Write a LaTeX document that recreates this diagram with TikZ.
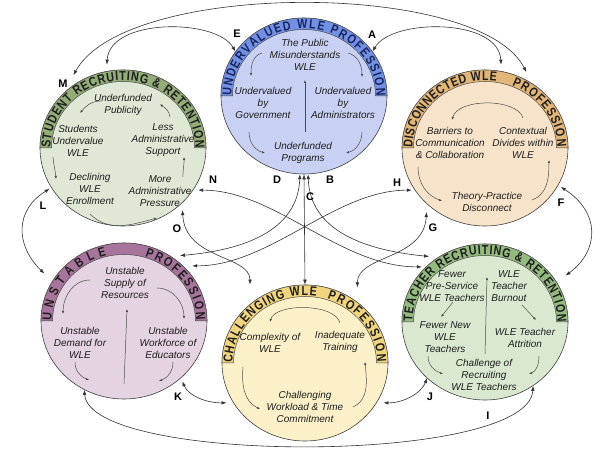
\documentclass[tikz,border=0pt]{standalone}
\usepackage{fontspec}
\setmainfont{Liberation Sans}
\newfontfamily\bandfam[FakeStretch=0.82]{Liberation Sans}
\usetikzlibrary{shapes.geometric,decorations.text,arrows.meta}
\definecolor{uFill}{HTML}{C8D1F3}
\definecolor{uBand}{HTML}{7391E4}
\definecolor{uText}{HTML}{17245F}
\definecolor{sFill}{HTML}{DEE8D4}
\definecolor{sBand}{HTML}{93AC78}
\definecolor{dFill}{HTML}{F6E3C9}
\definecolor{dBand}{HTML}{E2B676}
\definecolor{pFill}{HTML}{E4D3E0}
\definecolor{pBand}{HTML}{A7749B}
\definecolor{cFill}{HTML}{FCF0C8}
\definecolor{cBand}{HTML}{F0D47E}
\definecolor{tFill}{HTML}{DAE8D0}
\definecolor{tBand}{HTML}{93BB80}
\definecolor{inkD}{HTML}{1E1E1E}
\newcommand\ringband[1]{\fill[#1,draw=black!70,line width=0.5pt] (-83,0) arc[start angle=180,end angle=0,x radius=83,y radius=78] -- (71.5,0) arc[start angle=0,end angle=180,x radius=71.5,y radius=66.5] -- cycle;}
\newcommand\ringtext[4]{\path[decorate,decoration={text along path,text color=#4,text align=fit to path,text={|\bandfam\bfseries\fontsize{13}{13}\selectfont|#3}}] (#1:72.5 and 67.5) arc[start angle=#1,end angle=#2,x radius=72.5,y radius=67.5];}
\begin{document}
\begin{tikzpicture}[x=1pt,y=1pt,
  circ/.style={ellipse,minimum width=166pt,minimum height=156pt,inner sep=0pt,draw=black!75,line width=0.6pt},
  itx/.style={font=\itshape\fontsize{10}{12}\selectfont,align=center,text=inkD,inner sep=0pt},
  lbl/.style={font=\bfseries\fontsize{11}{11}\selectfont,text=black,inner sep=0pt},
  conn/.style={draw=black!80,line width=0.6pt,{Latex[length=5pt,width=3.6pt]}-{Latex[length=5pt,width=3.6pt]}},
  inarr/.style={draw=black!70,line width=0.5pt,-{Latex[length=3pt,width=2.4pt]}}]
\useasboundingbox (0,0) rectangle (600,450);
\fill[white] (0,0) rectangle (600,450);

% ---------- circles ----------
\node[circ,fill=uFill] (U) at (304,354) {};
\node[circ,fill=sFill] (S) at (123,302) {};
\node[circ,fill=dFill] (Dc) at (485,302) {};
\node[circ,fill=pFill] (P) at (124,129) {};
\node[circ,fill=cFill] (Ch) at (305,87) {};
\node[circ,fill=tFill] (T) at (485,128) {};

\begin{scope}[shift={(304,354)}]
 \ringband{uBand}
 \ringtext{180}{0}{UNDERVALUED WLE PROFESSION}{uText}
\end{scope}
\begin{scope}[shift={(123,302)}]
 \ringband{sBand}
 \ringtext{180}{0}{STUDENT RECRUITING {\&} RETENTION}{inkD}
\end{scope}
\begin{scope}[shift={(485,302)}]
 \ringband{dBand}
 \ringtext{180}{81}{DISCONNECTED WLE}{inkD}
 \ringtext{68}{1}{PROFESSION}{inkD}
\end{scope}
\begin{scope}[shift={(124,129)}]
 \ringband{pBand}
 \ringtext{180}{104}{UNSTABLE}{inkD}
 \ringtext{73}{1}{PROFESSION}{inkD}
\end{scope}
\begin{scope}[shift={(305,87)}]
 \ringband{cBand}
 \ringtext{180}{81}{CHALLENGING WLE}{inkD}
 \ringtext{72}{1}{PROFESSION}{inkD}
\end{scope}
\begin{scope}[shift={(485,128)}]
 \ringband{tBand}
 \ringtext{180}{0}{TEACHER RECRUITING {\&} RETENTION}{inkD}
\end{scope}

% ---------- Undervalued ----------
\node[itx] (u1) at (305,395) {The Public\\Misunderstands\\WLE};
\node[itx] (u2) at (263,347) {Undervalued\\by\\Government};
\node[itx] (u3) at (343,347) {Undervalued\\by\\Administrators};
\node[itx] (u4) at (303,297) {Underfunded\\Programs};
\draw[inarr] (262,397) to[out=195,in=90] (251,374);
\draw[inarr] (348,397) to[out=-15,in=90] (362,373);
\draw[inarr] (305,318) -- (305,370);
\draw[inarr] (249,318) to[out=-90,in=165] (265,297);
\draw[inarr] (362,318) to[out=-90,in=15] (346,297);

% ---------- Student ----------
\node[itx] (s1) at (123,345) {Underfunded\\Publicity};
\node[itx] (s2) at (78,309) {Students\\Undervalue\\WLE};
\node[itx] (s3) at (163,310) {Less\\Administrative\\Support};
\node[itx] (s4) at (90,261) {Declining\\WLE\\Enrollment};
\node[itx] (s5) at (160,259) {More\\Administrative\\Pressure};
\draw[inarr] (101,349) to[out=180,in=50] (80,337);
\draw[inarr] (170,333) to[out=95,in=-40] (160,346);
\draw[inarr] (53,293) to[out=-85,in=95] (56,271);
\draw[inarr] (183,273) to[out=92,in=-88] (184,293);
\draw[inarr] (90,236) to[out=-45,in=195] (157,232);

% ---------- Disconnected ----------
\draw[inarr] (523,332) .. controls (517,352) and (458,352) .. (452,330);
\node[itx] (d1) at (450,307) {Barriers to\\Communication\\\& Collaboration};
\node[itx] (d2) at (523,307) {Contextual\\Divides within\\WLE};
\node[itx] (d3) at (487,248) {Theory-Practice\\Disconnect};
\draw[inarr] (418,283) to[out=-90,in=160] (442,249);
\draw[inarr] (532,250) to[out=20,in=-90] (549,290);

% ---------- Unstable ----------
\node[itx] (p1) at (125,167) {Unstable\\Supply of\\Resources};
\node[itx] (p2) at (80,107) {Unstable\\Demand for\\WLE};
\node[itx] (p3) at (168,107) {Unstable\\Workforce of\\Educators};
\draw[inarr] (90,170) to[out=180,in=90] (63,136);
\draw[inarr] (157,162) to[out=0,in=90] (184,131);
\draw[inarr] (124,66) -- (127,141);
\draw[inarr] (75,88) to[out=-90,in=160] (89,70);
\draw[inarr] (173,88) to[out=-90,in=20] (159,69);

% ---------- Challenging ----------
\draw[inarr] (340,127) .. controls (335,147) and (275,147) .. (270,128);
\node[itx] (c1) at (270,107) {Complexity of\\WLE};
\node[itx] (c2) at (340,108) {Inadequate\\Training};
\node[itx] (c3) at (305,43) {Challenging\\Workload \& Time\\Commitment};
\draw[inarr] (243,83) to[out=-95,in=155] (260,41);
\draw[inarr] (353,43) to[out=25,in=-85] (365,88);

% ---------- Teacher ----------
\node[itx] (t1) at (452,164) {Fewer\\Pre-Service\\WLE Teachers};
\node[itx] (t2) at (509,164) {WLE\\Teacher\\Burnout};
\node[itx] (t3) at (445,113) {Fewer New\\WLE\\Teachers};
\node[itx] (t4) at (525,112) {WLE Teacher\\Attrition};
\node[itx] (t5) at (484,75) {Challenge of\\Recruiting\\WLE Teachers};
\draw[inarr] (485,96) -- (487,173);
\draw[inarr] (453,148) -- (441,133);
\draw[inarr] (522,145) -- (536,130);
\draw[inarr] (428,94) to[out=-90,in=160] (443,76);
\draw[inarr] (539,94) to[out=-90,in=20] (529,76);

% ---------- connectors ----------
\draw[conn,shorten >=6.5pt] (U.33) .. controls (392,432) and (499,432) .. (Dc.78);
\draw[conn,shorten <=6.5pt] (S.102) .. controls (109,432) and (216,432) .. (U.147);
\draw[conn,shorten <=20pt,shorten >=12.5pt] (S.137) .. controls (125,470) and (480,470) .. (Dc.54);
\draw[conn] (U.south) -- (Ch.north);
\draw[conn,shorten >=9pt] (U.-87) .. controls (310,220) and (363,200) .. (T.126);
\draw[conn,shorten >=9pt] (U.-93) .. controls (298,220) and (245,200) .. (P.54);
\draw[conn,shorten <=3pt,shorten >=9pt] (Dc.211) .. controls (335,260) and (270,184) .. (P.43);
\draw[conn,shorten <=5pt,shorten >=4pt] (S.-31) .. controls (275,260) and (340,183) .. (T.137);
\draw[conn,shorten <=7pt,shorten >=19.5pt] (S.-43) .. controls (185,190) and (250,195) .. (Ch.133);
\draw[conn,shorten <=8pt,shorten >=15pt] (Dc.-136) .. controls (424,190) and (357,195) .. (Ch.49);
\draw[conn,shorten <=2pt,shorten >=11pt] (S.209) .. controls (15,240) and (15,205) .. (P.151);
\draw[conn,shorten <=3pt,shorten >=11pt] (Dc.-27.5) .. controls (600,238) and (600,200) .. (T.29.5);
\draw[conn,shorten <=3.5pt,shorten >=6.7pt] (P.-45) .. controls (188,55) and (205,47) .. (Ch.209);
\draw[conn,shorten <=6.7pt] (Ch.-29) .. controls (405,47) and (422,58) .. (T.224);
\draw[conn] (P.240) .. controls (90,-15) and (528,-15) .. (T.-53.6);

% ---------- labels ----------
\node[lbl] (lA) at (372,415) {A};
\node[lbl] (lB) at (330,270) {B};
\node[lbl] (lC) at (310,253) {C};
\node[lbl] (lD) at (277,270) {D};
\node[lbl] (lE) at (237,416) {E};
\node[lbl] (lF) at (561,247) {F};
\node[lbl] (lG) at (433,222) {G};
\node[lbl] (lH) at (397,267) {H};
\node[lbl] (lI) at (488,34) {I};
\node[lbl] (lJ) at (430,53) {J};
\node[lbl] (lK) at (178,53) {K};
\node[lbl] (lL) at (43,244) {L};
\node[lbl] (lM) at (63,366) {M};
\node[lbl] (lN) at (213,270) {N};
\node[lbl] (lO) at (177,221) {O};
\end{tikzpicture}
\end{document}
